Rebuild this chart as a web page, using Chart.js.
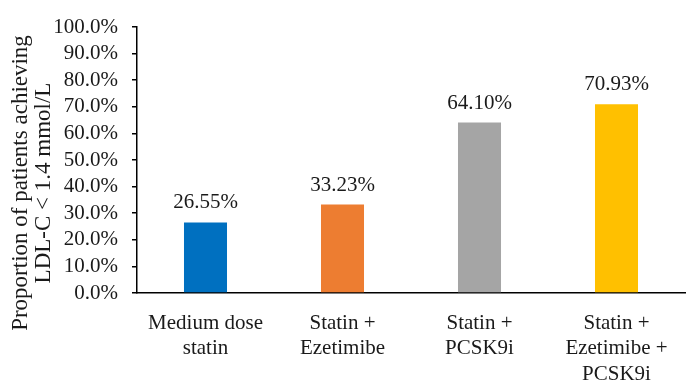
<!DOCTYPE html>
<html>
<head>
<meta charset="utf-8">
<script src="https://cdn.jsdelivr.net/npm/chart.js@4"></script>
<style>
    html, body { margin: 0; padding: 0; background: #fff; }
    #wrap { width: 696px; height: 384px; }
</style>
</head>
<body>
<div id="wrap"><canvas id="chart" width="696" height="384"></canvas></div>
<script>
// chart data
const categories = [
    ['Medium dose', 'statin'],
    ['Statin +', 'Ezetimibe'],
    ['Statin +', 'PCSK9i'],
    ['Statin +', 'Ezetimibe +', 'PCSK9i']
];
const values = [26.55, 33.23, 64.10, 70.93];
const barColors = ['#0070C0', '#ED7D31', '#A5A5A5', '#FFC000'];
const yTitle = ['Proportion of patients achieving', 'LDL-C < 1.4 mmol/L'];

const FONT = '"Liberation Serif", "Times New Roman", serif';
const TEXT = '#1a1a1a';

// value labels above the bars
const barLabels = {
    id: 'barLabels',
    afterDatasetsDraw(chart) {
        const ctx = chart.ctx;
        const meta = chart.getDatasetMeta(0);
        ctx.save();
        ctx.font = '21px ' + FONT;
        ctx.fillStyle = TEXT;
        ctx.textAlign = 'center';
        ctx.textBaseline = 'bottom';
        meta.data.forEach(function (bar, i) {
            ctx.fillText(values[i].toFixed(2) + '%', bar.x, bar.y - 9);
        });
        ctx.restore();
    }
};

// rotated two-line axis title
const axisTitle = {
    id: 'axisTitle',
    afterDraw(chart) {
        const ctx = chart.ctx;
        ctx.save();
        ctx.translate(0, 183);
        ctx.rotate(-Math.PI / 2);
        ctx.font = '23px ' + FONT;
        ctx.fillStyle = TEXT;
        ctx.textAlign = 'center';
        ctx.textBaseline = 'middle';
        ctx.fillText(yTitle[0], 0, 21);
        ctx.fillText(yTitle[1], 0, 44);
        ctx.restore();
    }
};

new Chart(document.getElementById('chart').getContext('2d'), {
    type: 'bar',
    data: {
        labels: categories,
        datasets: [{
            data: values,
            backgroundColor: barColors,
            barPercentage: 0.314,
            categoryPercentage: 1.0
        }]
    },
    options: {
        responsive: false,
        animation: false,
        layout: { padding: { top: 27, right: 11, left: 0, bottom: 0 } },
        plugins: {
            legend: { display: false },
            tooltip: { enabled: false }
        },
        scales: {
            x: {
                grid: { display: false },
                border: { display: true, color: '#000', width: 1.5 },
                ticks: {
                    color: TEXT,
                    font: { family: FONT, size: 21, lineHeight: 1.2 },
                    padding: 10,
                    maxRotation: 0,
                    autoSkip: false
                },
                afterFit(scale) { scale.height = 91; }
            },
            y: {
                min: 0,
                max: 100,
                grid: {
                    display: true,
                    drawOnChartArea: false,
                    drawTicks: true,
                    tickLength: 5,
                    color: '#000',
                    lineWidth: 1.5
                },
                border: { display: true, color: '#000', width: 1.5 },
                ticks: {
                    stepSize: 10,
                    autoSkip: false,
                    color: TEXT,
                    padding: 14,
                    font: { family: FONT, size: 21 },
                    callback: function (v) { return v.toFixed(1) + '%'; }
                },
                afterFit(scale) { scale.width = 137; }
            }
        }
    },
    plugins: [barLabels, axisTitle]
});
</script>
</body>
</html>
